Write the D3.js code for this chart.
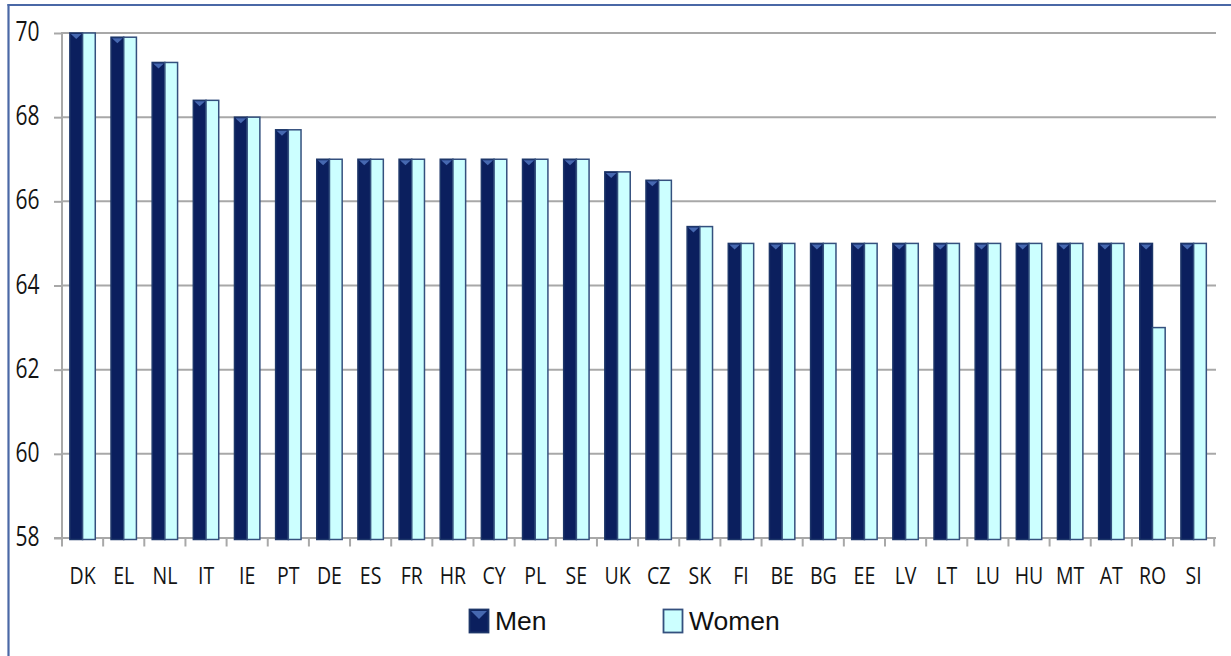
<!DOCTYPE html>
<html>
<head>
<meta charset="utf-8">
<script src="https://cdn.jsdelivr.net/npm/d3@7"></script>
<style>
  html, body { margin: 0; padding: 0; background: #fff; }
  svg { display: block; }
</style>
</head>
<body>
<svg id="chart" width="1231" height="656"></svg>
<script>
const categories = ["DK","EL","NL","IT","IE","PT","DE","ES","FR","HR","CY","PL","SE","UK","CZ","SK","FI","BE","BG","EE","LV","LT","LU","HU","MT","AT","RO","SI"];
const men   = [70, 69.9, 69.3, 68.4, 68, 67.7, 67, 67, 67, 67, 67, 67, 67, 66.7, 66.5, 65.4, 65, 65, 65, 65, 65, 65, 65, 65, 65, 65, 65, 65];
const women = [70, 69.9, 69.3, 68.4, 68, 67.7, 67, 67, 67, 67, 67, 67, 67, 66.7, 66.5, 65.4, 65, 65, 65, 65, 65, 65, 65, 65, 65, 65, 63, 65];
const seriesNames = ["Men", "Women"];
const yTicks = [58, 60, 62, 64, 66, 68, 70];

const svg = d3.select("#chart");
const menFill = "#0b1f5e", menStroke = "#1d3669", menBevel = "#4668b0";
const womenFill = "#ccffff", womenStroke = "#34507e";
const gridColor = "#a8a8a8";

const x = d3.scaleBand().domain(categories).range([62, 1214.2]).paddingInner(0).paddingOuter(0);
const xs = d3.scaleBand().domain(seriesNames).range([0, x.bandwidth()]).paddingInner(0).paddingOuter(0.62);
const y = d3.scaleLinear().domain([58, 70]).range([538, 33]);

// frame (left + top edges)
svg.append("line").attr("x1", 8.5).attr("x2", 8.5).attr("y1", 4).attr("y2", 656)
  .attr("stroke", "#4a68a6").attr("stroke-width", 2.2);
svg.append("line").attr("x1", 7.5).attr("x2", 1231).attr("y1", 5).attr("y2", 5)
  .attr("stroke", "#4a68a6").attr("stroke-width", 2.2);

// gridlines
svg.append("g").selectAll("line").data(yTicks.filter(d => d !== 58)).join("line")
  .attr("x1", 62).attr("x2", 1216)
  .attr("y1", d => y(d)).attr("y2", d => y(d))
  .attr("stroke", gridColor).attr("stroke-width", 2);

// y axis
const yAxis = svg.append("g").attr("transform", "translate(62,0)")
  .call(d3.axisLeft(y).tickValues(yTicks).tickSize(8).tickSizeOuter(0).tickPadding(0).tickFormat(d3.format("d")));
yAxis.select(".domain").remove();
yAxis.selectAll(".tick line").attr("stroke", gridColor).attr("stroke-width", 2);
yAxis.selectAll(".tick text")
  .attr("x", null).attr("dy", null)
  .attr("transform", "translate(-22.5,7.5) scale(1,1.27)")
  .attr("font-family", "'Open Sans', 'Liberation Sans', sans-serif")
  .attr("font-size", 21).attr("fill", "#141414").attr("text-anchor", "end");
svg.append("line").attr("x1", 62).attr("x2", 62).attr("y1", 32).attr("y2", 546)
  .attr("stroke", gridColor).attr("stroke-width", 2);

// x axis baseline and boundary ticks
svg.append("line").attr("x1", 54).attr("x2", 1216).attr("y1", y(58)).attr("y2", y(58))
  .attr("stroke", gridColor).attr("stroke-width", 2);
const bounds = d3.range(categories.length + 1).map(i => x.range()[0] + i * x.step());
svg.append("g").selectAll("line").data(bounds).join("line")
  .attr("x1", d => d).attr("x2", d => d).attr("y1", y(58)).attr("y2", y(58) + 8.5)
  .attr("stroke", gridColor).attr("stroke-width", 2);

// bars
const groups = svg.append("g").selectAll("g").data(categories).join("g")
  .attr("transform", d => `translate(${x(d)},0)`);

groups.append("rect")
  .attr("x", xs("Men")).attr("width", xs.bandwidth())
  .attr("y", (d, i) => y(men[i])).attr("height", (d, i) => y(58) + 1.5 - y(men[i]))
  .attr("fill", menFill).attr("stroke", menStroke).attr("stroke-width", 1.5);
groups.append("path")
  .attr("d", (d, i) => {
    const x0 = xs("Men"), w = xs.bandwidth(), t = y(men[i]);
    return `M${x0 + 1},${t + 1} L${x0 + w - 1},${t + 1} L${x0 + w / 2},${t + 6} Z`;
  })
  .attr("fill", menBevel);
groups.append("rect")
  .attr("x", xs("Women")).attr("width", xs.bandwidth())
  .attr("y", (d, i) => y(women[i])).attr("height", (d, i) => y(58) + 1.5 - y(women[i]))
  .attr("fill", womenFill).attr("stroke", womenStroke).attr("stroke-width", 1.5);

// x labels
const xAxis = svg.append("g").attr("transform", `translate(0,${y(58)})`)
  .call(d3.axisBottom(x).tickSize(0).tickPadding(0));
xAxis.select(".domain").remove();
xAxis.selectAll(".tick text")
  .attr("y", null).attr("dy", null)
  .attr("transform", "translate(0,46) scale(1,1.25)")
  .attr("font-family", "'Open Sans', 'Liberation Sans', sans-serif")
  .attr("font-size", 19.5).attr("fill", "#141414");

// legend
const legend = svg.append("g");
const legendItems = [
  { name: seriesNames[0], sx: 469.5, tx: 495, fill: menFill, stroke: menStroke, bevel: true },
  { name: seriesNames[1], sx: 663.5, tx: 689, fill: womenFill, stroke: womenStroke, bevel: false }
];
legendItems.forEach(it => {
  legend.append("rect").attr("x", it.sx).attr("y", 609.5).attr("width", 19).attr("height", 23)
    .attr("fill", it.fill).attr("stroke", it.stroke).attr("stroke-width", 1.8);
  if (it.bevel) {
    legend.append("path")
      .attr("d", `M${it.sx + 1.5},${611} L${it.sx + 17.5},${611} L${it.sx + 9.5},${619} Z`)
      .attr("fill", menBevel);
  }
  legend.append("text").attr("x", it.tx).attr("y", 630)
    .attr("font-family", "'Liberation Sans', Arial, sans-serif")
    .attr("font-size", 26.5).attr("fill", "#111")
    .text(it.name);
});
</script>
</body>
</html>
